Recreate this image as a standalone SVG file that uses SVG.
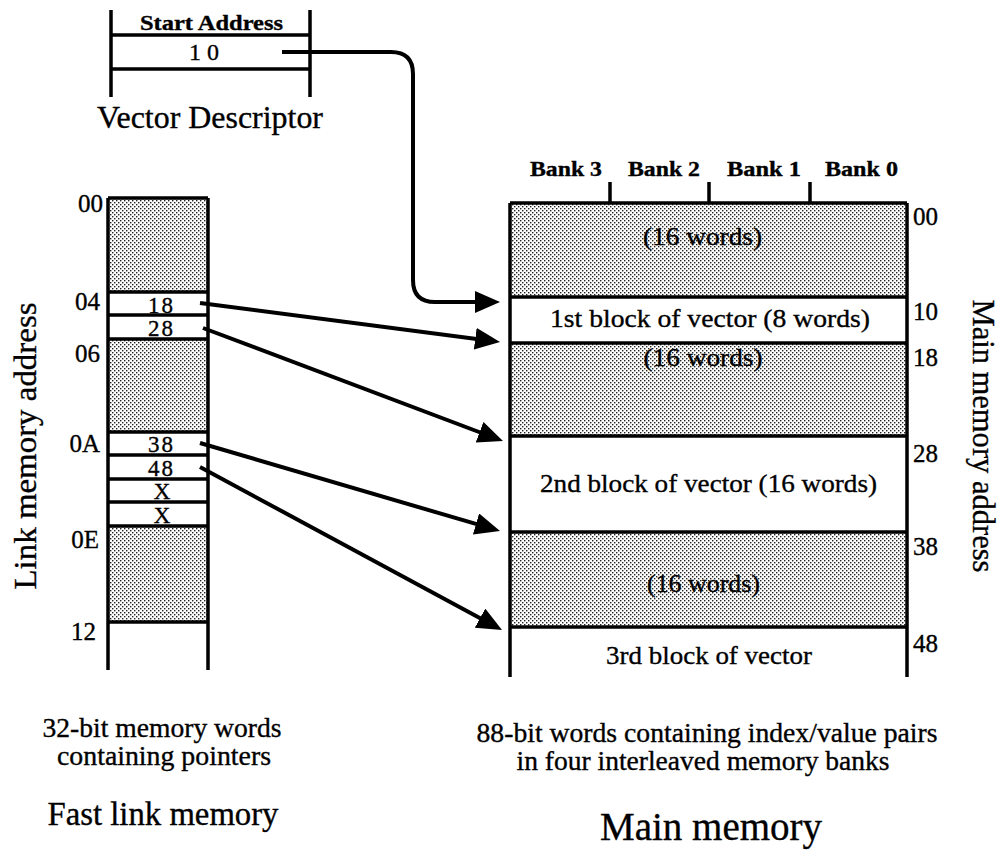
<svg xmlns="http://www.w3.org/2000/svg" width="1007" height="854" viewBox="0 0 1007 854" font-family="'Liberation Serif', 'Times New Roman', Times, serif">
  <defs>
    <!-- stipple fill for unused memory regions -->
    <pattern id="dots" patternUnits="userSpaceOnUse" width="4" height="4">
      <rect width="4" height="4" fill="#ffffff"/>
      <rect x="0" y="0" width="1.4" height="1.4" fill="#222"/>
      <rect x="2" y="2" width="1.4" height="1.4" fill="#222"/>
    </pattern>
    <marker id="head" markerUnits="userSpaceOnUse" markerWidth="26" markerHeight="24" refX="15" refY="11" orient="auto">
      <path d="M0,0 L25,11 L0,22 z" fill="#000"/>
    </marker>
    <style>
      .ln { stroke: #000; stroke-width: 3.5; fill: none; }
      .shade { fill: url(#dots); stroke: none; }
      .t { font-family: 'Liberation Serif', 'Times New Roman', Times, serif; fill: #000; stroke: #000; stroke-width: 0.35; }
      .b { font-weight: bold; }
      .mid { text-anchor: middle; }
      .end { text-anchor: end; }
      .arrow { stroke: #000; stroke-width: 4; fill: none; marker-end: url(#head); }
    </style>
  </defs>
  <rect width="1007" height="854" fill="#ffffff"/>

  <!-- vector descriptor -->
  <g id="vector-descriptor">
    <path class="ln" d="M111,10 V97 M310,10 V97 M111,35 H310 M111,69 H310"/>
    <text class="t b mid" x="211.5" y="30" font-size="22" textLength="143" lengthAdjust="spacingAndGlyphs">Start Address</text>
    <text class="t mid" x="204" y="60" font-size="24" textLength="30" lengthAdjust="spacing">10</text>
    <text class="t" x="97" y="128" font-size="31" textLength="226" lengthAdjust="spacingAndGlyphs">Vector Descriptor</text>
  </g>

  <!-- fast link memory column -->
  <g id="link-memory">
    <rect class="shade" x="108" y="198" width="100" height="94"/>
    <rect class="shade" x="108" y="339" width="100" height="93"/>
    <rect class="shade" x="108" y="526" width="100" height="96"/>
    <path class="ln" d="M108,198 V670 M208,198 V670 M108,198 H208 M108,292 H208 M108,315 H208 M108,339 H208 M108,432 H208 M108,455 H208 M108,479 H208 M108,502 H208 M108,526 H208 M108,622 H208"/>
    <text class="t mid" x="160.5" y="313" font-size="23" textLength="25" lengthAdjust="spacing">18</text>
    <text class="t mid" x="160.5" y="336" font-size="23" textLength="25" lengthAdjust="spacing">28</text>
    <text class="t mid" x="160.5" y="452" font-size="23" textLength="25" lengthAdjust="spacing">38</text>
    <text class="t mid" x="160.5" y="476" font-size="23" textLength="25" lengthAdjust="spacing">48</text>
    <text class="t mid" x="162" y="499" font-size="23">X</text>
    <text class="t mid" x="162" y="523" font-size="23">X</text>
    <g class="t end" font-size="25">
      <text x="103" y="212">00</text>
      <text x="100" y="310">04</text>
      <text x="100" y="362">06</text>
      <text x="100" y="452">0A</text>
      <text x="99" y="548">0E</text>
      <text x="96" y="640">12</text>
    </g>
    <text class="t mid" transform="translate(36,446) rotate(-90)" font-size="32" textLength="287" lengthAdjust="spacingAndGlyphs">Link memory address</text>
  </g>

  <!-- main memory banks -->
  <g id="main-memory">
    <rect class="shade" x="510" y="203" width="397" height="94"/>
    <rect class="shade" x="510" y="343" width="397" height="93"/>
    <rect class="shade" x="510" y="532" width="397" height="95"/>
    <path class="ln" d="M510,203 V677 M907,203 V677 M510,203 H907 M510,297 H907 M510,343 H907 M510,436 H907 M510,532 H907 M510,627 H907 M610,182 V203 M709,182 V203 M810,182 V203"/>
    <g class="t b" font-size="22">
      <text x="530" y="176" textLength="72" lengthAdjust="spacingAndGlyphs">Bank 3</text>
      <text x="628" y="176" textLength="72" lengthAdjust="spacingAndGlyphs">Bank 2</text>
      <text x="727" y="176" textLength="74" lengthAdjust="spacingAndGlyphs">Bank 1</text>
      <text x="825" y="176" textLength="73" lengthAdjust="spacingAndGlyphs">Bank 0</text>
    </g>
    <text class="t mid" x="702.5" y="245" font-size="25" textLength="119" lengthAdjust="spacingAndGlyphs">(16 words)</text>
    <text class="t mid" x="710" y="327" font-size="26" textLength="320" lengthAdjust="spacingAndGlyphs">1st block of vector (8 words)</text>
    <text class="t mid" x="703" y="366" font-size="25" textLength="119" lengthAdjust="spacingAndGlyphs">(16 words)</text>
    <text class="t mid" x="708.5" y="492" font-size="26" textLength="337" lengthAdjust="spacingAndGlyphs">2nd block of vector (16 words)</text>
    <text class="t mid" x="703.5" y="592" font-size="25" textLength="113" lengthAdjust="spacingAndGlyphs">(16 words)</text>
    <text class="t mid" x="709" y="664" font-size="26" textLength="206" lengthAdjust="spacingAndGlyphs">3rd block of vector</text>
    <g class="t" font-size="25">
      <text x="913" y="225">00</text>
      <text x="913" y="320">10</text>
      <text x="913" y="366">18</text>
      <text x="913" y="462">28</text>
      <text x="913" y="555">38</text>
      <text x="913" y="652">48</text>
    </g>
    <text class="t mid" transform="translate(973,436) rotate(90)" font-size="31" textLength="273" lengthAdjust="spacingAndGlyphs">Main memory address</text>
  </g>

  <!-- pointers from descriptor and link words into main memory -->
  <g id="connectors">
    <path class="arrow" d="M282,52 H391 Q413,52 413,74 V280 Q413,302 435,302 H490"/>
    <path class="arrow" d="M200,303 L490.1,340.7"/>
    <path class="arrow" d="M203,328 L493.6,437.5"/>
    <path class="arrow" d="M200,443 L490.4,528.2"/>
    <path class="arrow" d="M200,467 L493.2,625.3"/>
  </g>

  <!-- captions -->
  <g id="captions" class="t mid">
    <text x="162" y="737" font-size="27" textLength="239" lengthAdjust="spacingAndGlyphs">32-bit memory words</text>
    <text x="164" y="765" font-size="27" textLength="214" lengthAdjust="spacingAndGlyphs">containing pointers</text>
    <text x="163" y="825" font-size="33" textLength="231" lengthAdjust="spacingAndGlyphs">Fast link memory</text>
    <text x="707" y="742" font-size="27" textLength="461" lengthAdjust="spacingAndGlyphs">88-bit words containing index/value pairs</text>
    <text x="703" y="770" font-size="27" textLength="373" lengthAdjust="spacingAndGlyphs">in four interleaved memory banks</text>
    <text x="711" y="840" font-size="40" textLength="222" lengthAdjust="spacingAndGlyphs">Main memory</text>
  </g>
</svg>
